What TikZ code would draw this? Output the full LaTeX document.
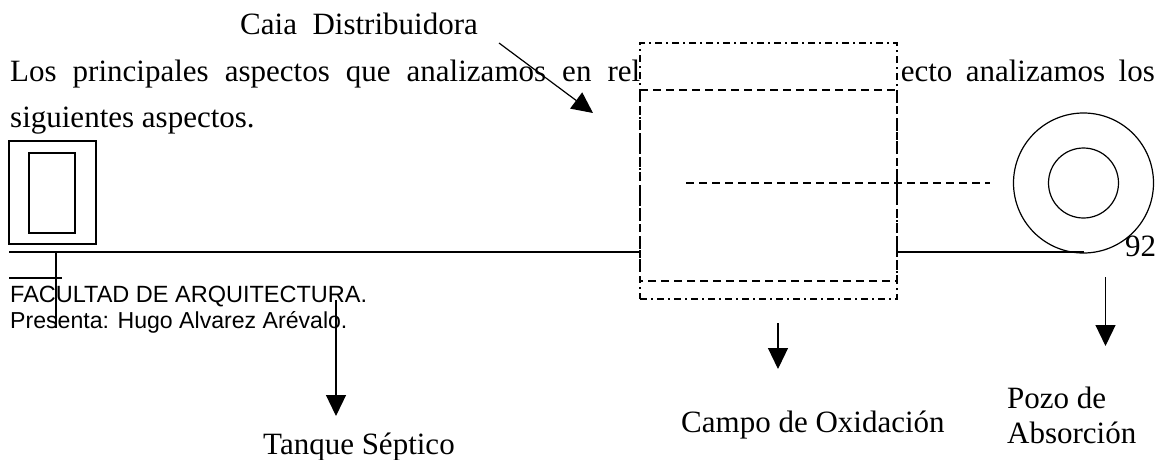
\documentclass[tikz,border=0pt]{standalone}
\usepackage{fontspec}
\setmainfont{Liberation Serif}
\setsansfont{Liberation Sans}
\usetikzlibrary{shapes,arrows.meta,positioning}
\tikzstyle{rotulo} = [inner sep=0pt, anchor=base west, font=\fontsize{31}{31}\selectfont]
\tikzstyle{pie} = [inner sep=0pt, anchor=base west, font=\sffamily\fontsize{23.5}{23.5}\selectfont]
\tikzstyle{muro} = [draw, line width=1.2pt, inner sep=0pt]
\tikzstyle{line} = [draw, line width=1.2pt, -{Triangle[length=21pt,width=20pt]}]
\tikzstyle{tubo} = [draw, line width=1.2pt]
\tikzstyle{campo} = [draw, fill=white, line width=1.2pt, dash pattern=on 7pt off 4pt on 2pt off 4pt]
\tikzstyle{zanja} = [draw, line width=1.2pt, dash pattern=on 8pt off 5pt]

\begin{document}
\begin{tikzpicture}[x=1pt,y=-1pt]
    \useasboundingbox (0,0) rectangle (1165,459);
    \node [rotulo] (caja) at (240,34) {Caia\ \ Distribuidora};
    \node [rotulo] (parr1) at (10,81) {\makebox[630pt][s]{Los principales aspectos que analizamos en rel}};
    \node [rotulo, anchor=base east] (parr1b) at (1155,81) {\makebox[254pt][s]{ecto analizamos los}};
    \node [rotulo] (parr2) at (10,127) {siguientes aspectos.};
    % tanque septico
    \node [muro, minimum width=87pt, minimum height=103pt] (tanqueout) at (52.5,192.5) {};
    \node [muro, minimum width=46pt, minimum height=80pt] (tanquein) at (52,193) {};
    \coordinate (lineaa) at (9,252);
    \coordinate (lineab) at (1084,252);
    \path [tubo] (lineaa) -- (lineab);
    \coordinate (cortoa) at (9,278);
    \coordinate (cortob) at (62,278);
    \path [tubo] (cortoa) -- (cortob);
    \coordinate (verta) at (56,252);
    \coordinate (vertb) at (56,328);
    \path [tubo] (verta) -- (vertb);
    % campo de oxidacion
    \node [campo, minimum width=257pt, minimum height=256pt, inner sep=0pt] (campoox) at (768.5,171) {};
    \coordinate (zanjaa) at (640,90);
    \coordinate (zanjab) at (897,90);
    \coordinate (zanjac) at (897,281);
    \coordinate (zanjad) at (640,281);
    \path [zanja] (zanjaa) -- (zanjab) -- (zanjac) -- (zanjad) -- cycle;
    \coordinate (ejea) at (686,183);
    \coordinate (ejeb) at (990,183);
    \path [zanja] (ejea) -- (ejeb);
    % pozo
    \node [circle, draw, line width=1.2pt, minimum size=140pt, inner sep=0pt] (pozoout) at (1083.5,183) {};
    \node [circle, draw, line width=1.2pt, minimum size=70pt, inner sep=0pt] (pozoin) at (1083.5,183) {};
    \node [rotulo] (num) at (1125,256) {92};
    % pie de pagina
    \node [pie] (fac) at (10,302) {FACULTAD DE ARQUITECTURA.};
    \node [pie, font=\sffamily\fontsize{23.1}{23.1}\selectfont] (pres) at (10,328) {Presenta: Hugo Alvarez Arévalo.};
    % nombres
    \node [rotulo] (tanque) at (263,454) {Tanque Séptico};
    \node [rotulo] (campon) at (681,432) {Campo de Oxidación};
    \node [rotulo] (pozon) at (1007,408) {Pozo de};
    \node [rotulo] (pozonb) at (1007,443) {Absorción};
    \coordinate (flechaa) at (499,43);
    \coordinate (flechab) at (593,113);
    \path [line] (flechaa) -- (flechab);
    \coordinate (flechac) at (336,300);
    \coordinate (flechad) at (336,416);
    \path [line] (flechac) -- (flechad);
    \coordinate (flechae) at (778,323);
    \coordinate (flechaf) at (778,369);
    \path [line] (flechae) -- (flechaf);
    \coordinate (flechag) at (1105.5,277);
    \coordinate (flechah) at (1105.5,346);
    \path [line] (flechag) -- (flechah);
\end{tikzpicture}
\end{document}
